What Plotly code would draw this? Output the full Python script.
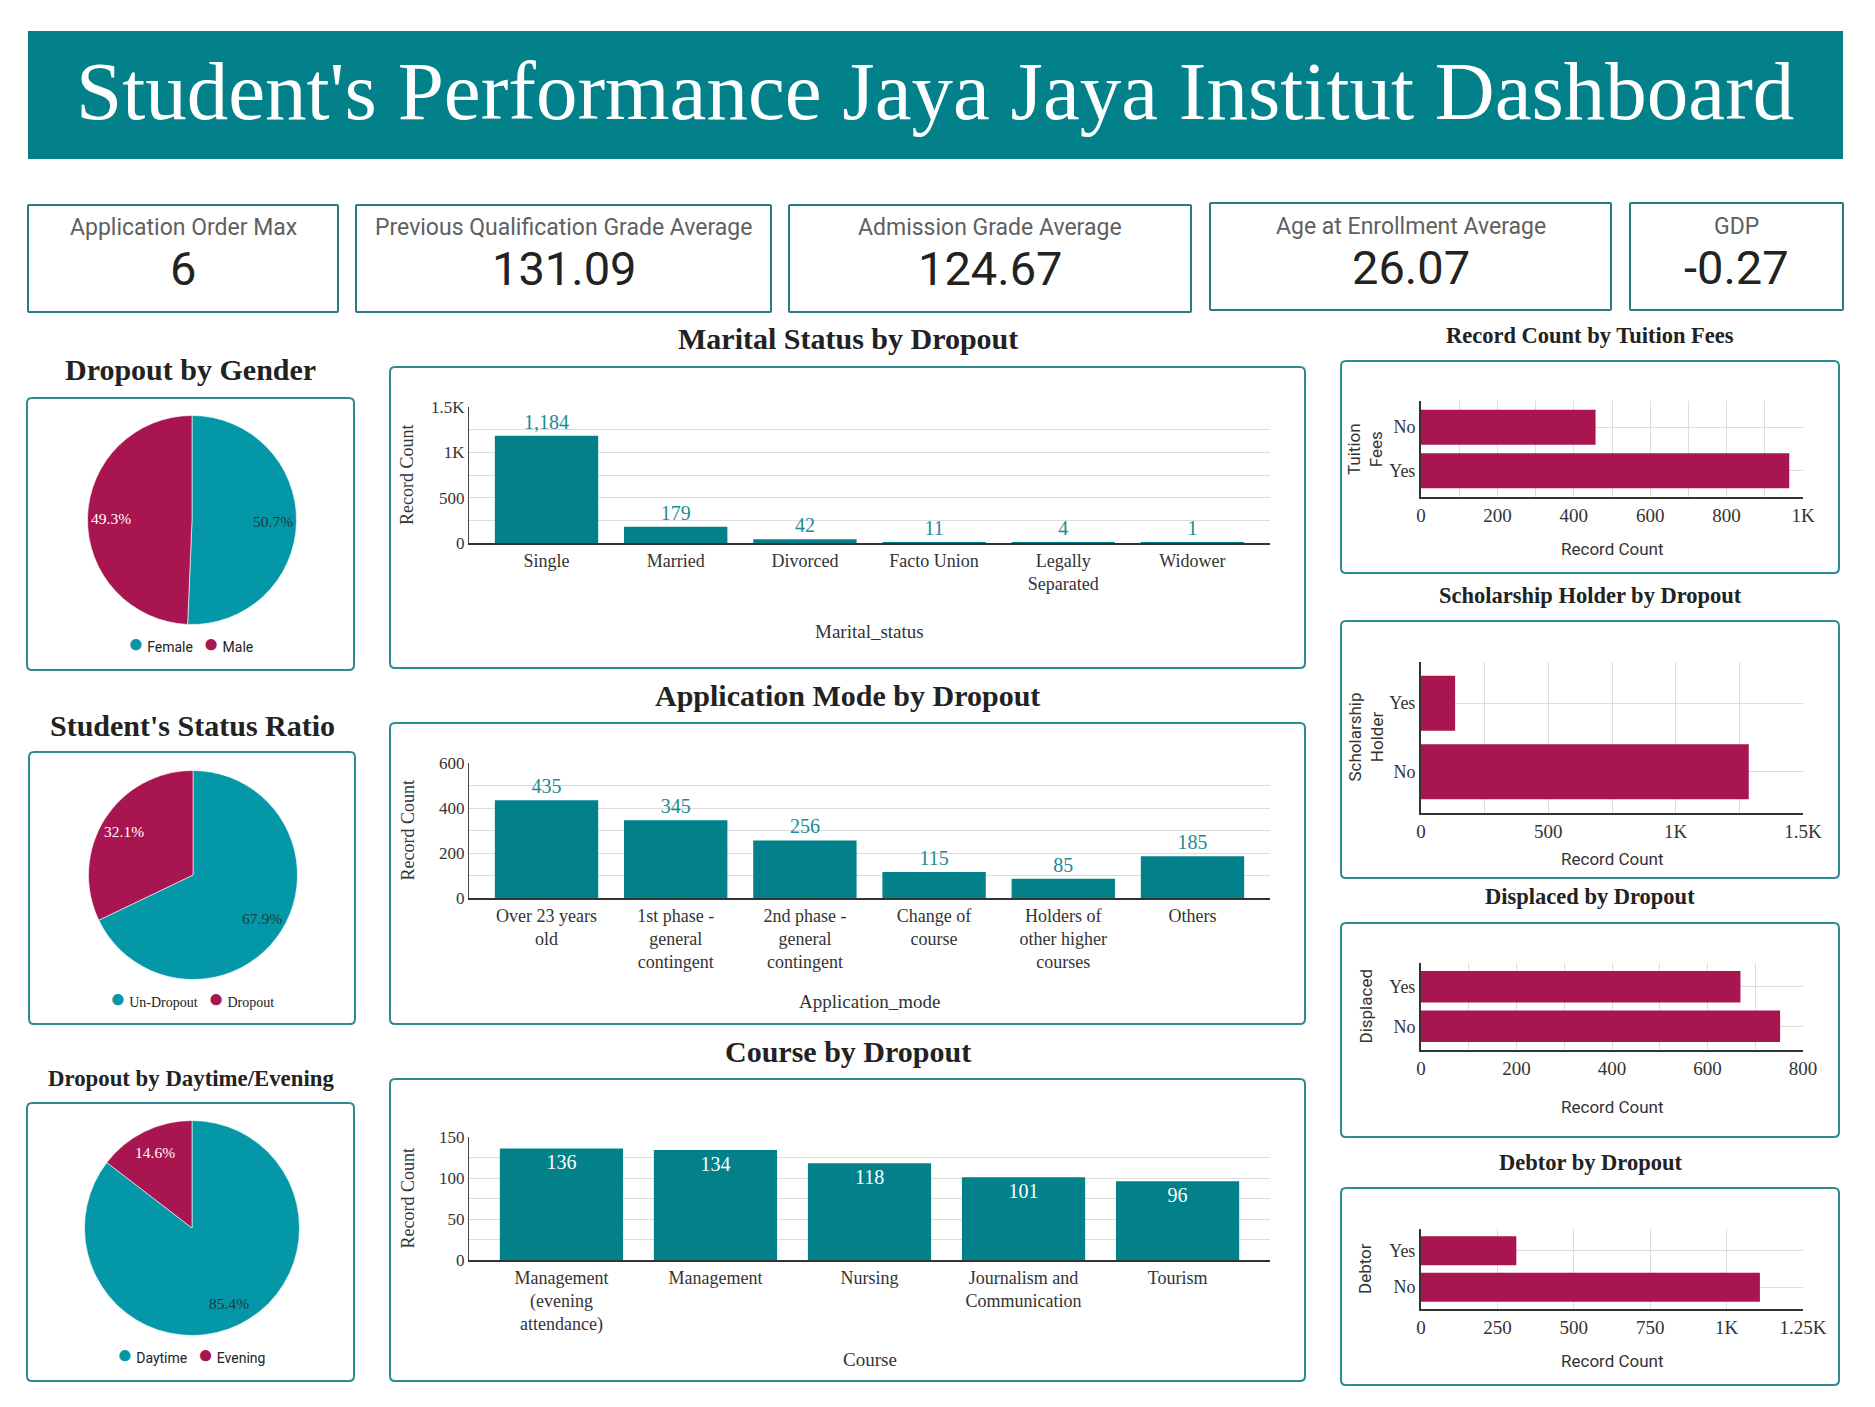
import math
import plotly.graph_objects as go

W, H = 1875, 1407


def X(px):
    return px / W


def Y(py):
    return 1 - py / H


TEAL_BAR = "#02818A"
TEAL_PIE = "#0397A7"
MAGENTA = "#A91551"
BORDER = "#2E8B93"
GRID = "#DCDCDC"
SERIF = "Liberation Serif"
SANS = "Roboto"

# ---------------- data ----------------
kpi_labels = ["Application Order Max", "Previous Qualification Grade Average",
              "Admission Grade Average", "Age at Enrollment Average", "GDP"]
kpi_values = [6, 131.09, 124.67, 26.07, -0.27]

gender_labels = ["Female", "Male"]
gender_values = [720, 701]
status_labels = ["Un-Dropout", "Dropout"]
status_values = [3003, 1421]
time_labels = ["Daytime", "Evening"]
time_values = [1214, 207]

marital_cats = ["Single", "Married", "Divorced", "Facto Union", "Legally<br>Separated", "Widower"]
marital_counts = [1184, 179, 42, 11, 4, 1]
marital_tickvals = [0, 250, 500, 750, 1000, 1250, 1500]
marital_ticktext = ["0", "", "500", "", "1K", "", "1.5K"]

app_cats = ["Over 23 years<br>old", "1st phase -<br>general<br>contingent",
            "2nd phase -<br>general<br>contingent", "Change of<br>course",
            "Holders of<br>other higher<br>courses", "Others"]
app_counts = [435, 345, 256, 115, 85, 185]
app_tickvals = [0, 100, 200, 300, 400, 500, 600]
app_ticktext = ["0", "", "200", "", "400", "", "600"]

course_cats = ["Management<br>(evening<br>attendance)", "Management", "Nursing",
               "Journalism and<br>Communication", "Tourism"]
course_counts = [136, 134, 118, 101, 96]
course_tickvals = [0, 25, 50, 75, 100, 125, 150]
course_ticktext = ["0", "", "50", "", "100", "", "150"]

tuition_cats = ["No", "Yes"]
tuition_counts = [457, 964]
tuition_tickvals = [0, 100, 200, 300, 400, 500, 600, 700, 800, 900, 1000]
tuition_ticktext = ["0", "", "200", "", "400", "", "600", "", "800", "", "1K"]

scholar_cats = ["Yes", "No"]
scholar_counts = [134, 1287]
scholar_tickvals = [0, 250, 500, 750, 1000, 1250, 1500]
scholar_ticktext = ["0", "", "500", "", "1K", "", "1.5K"]

displaced_cats = ["Yes", "No"]
displaced_counts = [669, 752]
displaced_tickvals = [0, 100, 200, 300, 400, 500, 600, 700, 800]
displaced_ticktext = ["0", "", "200", "", "400", "", "600", "", "800"]

debtor_cats = ["Yes", "No"]
debtor_counts = [312, 1109]
debtor_tickvals = [0, 250, 500, 750, 1000, 1250]
debtor_ticktext = ["0", "250", "500", "750", "1K", "1.25K"]

# ---------------- helpers ----------------
shapes = []
annotations = []


def rrect(x0, y0, x1, y1, r=5, color=BORDER, width=2, fill="white"):
    p = (f"M {X(x0 + r)},{Y(y0)} L {X(x1 - r)},{Y(y0)} Q {X(x1)},{Y(y0)} {X(x1)},{Y(y0 + r)} "
         f"L {X(x1)},{Y(y1 - r)} Q {X(x1)},{Y(y1)} {X(x1 - r)},{Y(y1)} "
         f"L {X(x0 + r)},{Y(y1)} Q {X(x0)},{Y(y1)} {X(x0)},{Y(y1 - r)} "
         f"L {X(x0)},{Y(y0 + r)} Q {X(x0)},{Y(y0)} {X(x0 + r)},{Y(y0)} Z")
    shapes.append(dict(type="path", path=p, xref="paper", yref="paper",
                       line=dict(color=color, width=width), fillcolor=fill, layer="below"))


def text(t, x, y, size, color="#222", family=SERIF, xanchor="center", yanchor="middle", angle=0):
    annotations.append(dict(text=t, x=X(x), y=Y(y), xref="paper", yref="paper",
                            showarrow=False, xanchor=xanchor, yanchor=yanchor, textangle=angle,
                            font=dict(size=size, color=color, family=family)))


# ---------------- banner ----------------
shapes.append(dict(type="rect", xref="paper", yref="paper", x0=X(28), x1=X(1843), y0=Y(159), y1=Y(31),
                   fillcolor=TEAL_BAR, line=dict(width=0), layer="below"))
text("Student's Performance Jaya Jaya Institut Dashboard", 935, 91, 83, "white", SERIF)

# ---------------- KPI cards ----------------
kpi_boxes = [(28, 205, 338, 312), (356, 205, 771, 312), (789, 205, 1191, 312),
             (1210, 203, 1611, 310), (1630, 203, 1843, 310)]
for (x0, y0, x1, y1), lab, val in zip(kpi_boxes, kpi_labels, kpi_values):
    rrect(x0, y0, x1, y1, r=1, color="#2A7C84", width=2)
    cx = (x0 + x1) / 2
    text(lab, cx, y0 + 23, 23, "#606060", SANS)
    vs = f"{val:g}" if isinstance(val, int) else f"{val:.2f}"
    text(vs, cx, y0 + 64, 47, "#222222", SANS)

# ---------------- pies ----------------
fig = go.Figure()


def pie(labels, values, cx, cy, r, title, tsize, ty, box, legend_y, legend_font):
    fig.add_trace(go.Pie(labels=labels, values=values, sort=False, direction="clockwise", rotation=0,
                         domain=dict(x=[X(cx - r), X(cx + r)], y=[Y(cy + r), Y(cy - r)]),
                         marker=dict(colors=[TEAL_PIE, MAGENTA], line=dict(color="white", width=0.6)),
                         textinfo="none", showlegend=False, hoverinfo="label+value+percent"))
    # percent labels placed along each slice's mid-angle (derived from the values)
    total = sum(values)
    cum = 0
    for v, col in zip(values, ["#1F3A3E", "white"]):
        mid = (cum + v / 2) / total * 2 * math.pi
        cum += v
        k = 0.78
        text(f"{v / total * 100:.1f}%", cx + k * r * math.sin(mid), cy - k * r * math.cos(mid),
             15.5, col, SERIF)
    rrect(*box)
    text(f"<b>{title}</b>", (box[0] + box[2]) / 2, ty, tsize, "#222", SERIF)
    dot = "<span style='color:{c};font-size:26px'>●</span>"
    leg = (f"{dot.format(c=TEAL_PIE)} {labels[0]}&nbsp;&nbsp;&nbsp;"
           f"{dot.format(c=MAGENTA)} {labels[1]}")
    text(leg, (box[0] + box[2]) / 2, legend_y, 14, "#222", legend_font)


pie(gender_labels, gender_values, 192, 520, 104.5, "Dropout by Gender", 30, 369,
    (27, 398, 354, 670), 643, SANS)
pie(status_labels, status_values, 193, 875, 104.5, "Student's Status Ratio", 30, 725,
    (29, 752, 355, 1024), 998, SERIF)
pie(time_labels, time_values, 192, 1228, 107.5, "Dropout by Daytime/Evening", 22.8, 1078,
    (27, 1103, 354, 1381), 1354, SANS)

# ---------------- bar charts ----------------
layout_axes = {}


def vbar(idx, cats, vals, tickvals, ticktext, box, title, ty, plot, xtitle, xty, inside=False):
    xa = "xaxis" if idx == 1 else f"xaxis{idx}"
    ya = "yaxis" if idx == 1 else f"yaxis{idx}"
    xr = "x" if idx == 1 else f"x{idx}"
    yr = "y" if idx == 1 else f"y{idx}"
    fig.add_trace(go.Bar(x=cats, y=vals, xaxis=xr, yaxis=yr, width=0.8,
                         marker=dict(color=TEAL_BAR, line=dict(width=0)),
                         text=vals, texttemplate="%{y:,}",
                         textposition="inside" if inside else "outside",
                         insidetextanchor="end",
                         textfont=dict(family=SERIF, size=20, color="white" if inside else "#1E8A94"),
                         cliponaxis=False, showlegend=False))
    px0, py0, px1, py1 = plot
    layout_axes[xa] = dict(domain=[X(px0), X(px1)], anchor=yr, range=[-0.6, len(cats) - 0.4],
                           showline=True, linecolor="#333",
                           linewidth=2, showgrid=False, ticks="", automargin=False,
                           tickfont=dict(family=SERIF, size=18, color="#333"))
    layout_axes[ya] = dict(domain=[Y(py1), Y(py0)], anchor=xr, range=[0, tickvals[-1]],
                           tickmode="array", tickvals=tickvals, ticktext=ticktext,
                           showgrid=True, gridcolor=GRID, gridwidth=1, zeroline=False,
                           showline=True, linecolor="#444", linewidth=1, ticks="", automargin=False,
                           tickfont=dict(family=SERIF, size=17, color="#333"))
    rrect(*box)
    text(f"<b>{title}</b>", (box[0] + box[2]) / 2, ty, 30, "#222", SERIF)
    text(xtitle, (px0 + px1) / 2, xty, 19, "#333", SERIF)
    text("Record Count", 407, (py0 + py1) / 2, 18, "#333", SERIF, angle=-90)


vbar(1, marital_cats, marital_counts, marital_tickvals, marital_ticktext, (390, 367, 1305, 668),
     "Marital Status by Dropout", 338, (469, 407, 1270, 543), "Marital_status", 632)
vbar(2, app_cats, app_counts, app_tickvals, app_ticktext, (390, 723, 1305, 1024),
     "Application Mode by Dropout", 695, (469, 763, 1270, 898), "Application_mode", 1001)
vbar(3, course_cats, course_counts, course_tickvals, course_ticktext, (390, 1079, 1305, 1381),
     "Course by Dropout", 1051, (469, 1137, 1270, 1260), "Course", 1359, inside=True)


def hbar(idx, cats, vals, tickvals, ticktext, box, title, ty, plot, ytitle, tick_y_title):
    xa, ya = f"xaxis{idx}", f"yaxis{idx}"
    xr, yr = f"x{idx}", f"y{idx}"
    fig.add_trace(go.Bar(y=cats, x=vals, orientation="h", xaxis=xr, yaxis=yr, width=0.8,
                         marker=dict(color=MAGENTA, line=dict(width=0)), showlegend=False))
    px0, py0, px1, py1 = plot
    layout_axes[xa] = dict(domain=[X(px0), X(px1)], anchor=yr, range=[0, tickvals[-1]],
                           tickmode="array", tickvals=tickvals, ticktext=ticktext,
                           showgrid=True, gridcolor=GRID, zeroline=False, showline=True,
                           linecolor="#333", linewidth=2, ticks="", automargin=False,
                           tickfont=dict(family=SERIF, size=19, color="#333"))
    layout_axes[ya] = dict(domain=[Y(py1), Y(py0)], anchor=xr, range=[len(cats) - 0.4, -0.6],
                           showgrid=True, gridcolor=GRID, showline=True, linecolor="#333",
                           linewidth=2, ticks="", automargin=False,
                           tickfont=dict(family=SERIF, size=18, color="#333"))
    rrect(*box)
    text(f"<b>{title}</b>", (box[0] + box[2]) / 2, ty, 22.5, "#222", SERIF)
    text("Record Count", (px0 + px1) / 2, tick_y_title, 17, "#333", SANS)
    text(ytitle, 1365, (py0 + py1) / 2, 17, "#333", SANS, angle=-90)


hbar(4, tuition_cats, tuition_counts, tuition_tickvals, tuition_ticktext, (1341, 361, 1839, 573),
     "Record Count by Tuition Fees", 335, (1421, 401, 1803, 497), "Tuition<br>Fees", 549)
hbar(5, scholar_cats, scholar_counts, scholar_tickvals, scholar_ticktext, (1341, 621, 1839, 878),
     "Scholarship Holder by Dropout", 596, (1421, 662, 1803, 813), "Scholarship<br>Holder", 859)
hbar(6, displaced_cats, displaced_counts, displaced_tickvals, displaced_ticktext, (1341, 923, 1839, 1137),
     "Displaced by Dropout", 896, (1421, 963, 1803, 1050), "Displaced", 1107)
hbar(7, debtor_cats, debtor_counts, debtor_tickvals, debtor_ticktext, (1341, 1188, 1839, 1385),
     "Debtor by Dropout", 1162, (1421, 1229, 1803, 1309), "Debtor", 1361)

fig.update_layout(width=W, height=H, autosize=False, margin=dict(l=0, r=0, t=0, b=0),
                  paper_bgcolor="white", plot_bgcolor="rgba(0,0,0,0)",
                  shapes=shapes, annotations=annotations, **layout_axes)

fig.write_html("out.html", config={"displayModeBar": False},
               post_script="document.body.style.margin='0';")
